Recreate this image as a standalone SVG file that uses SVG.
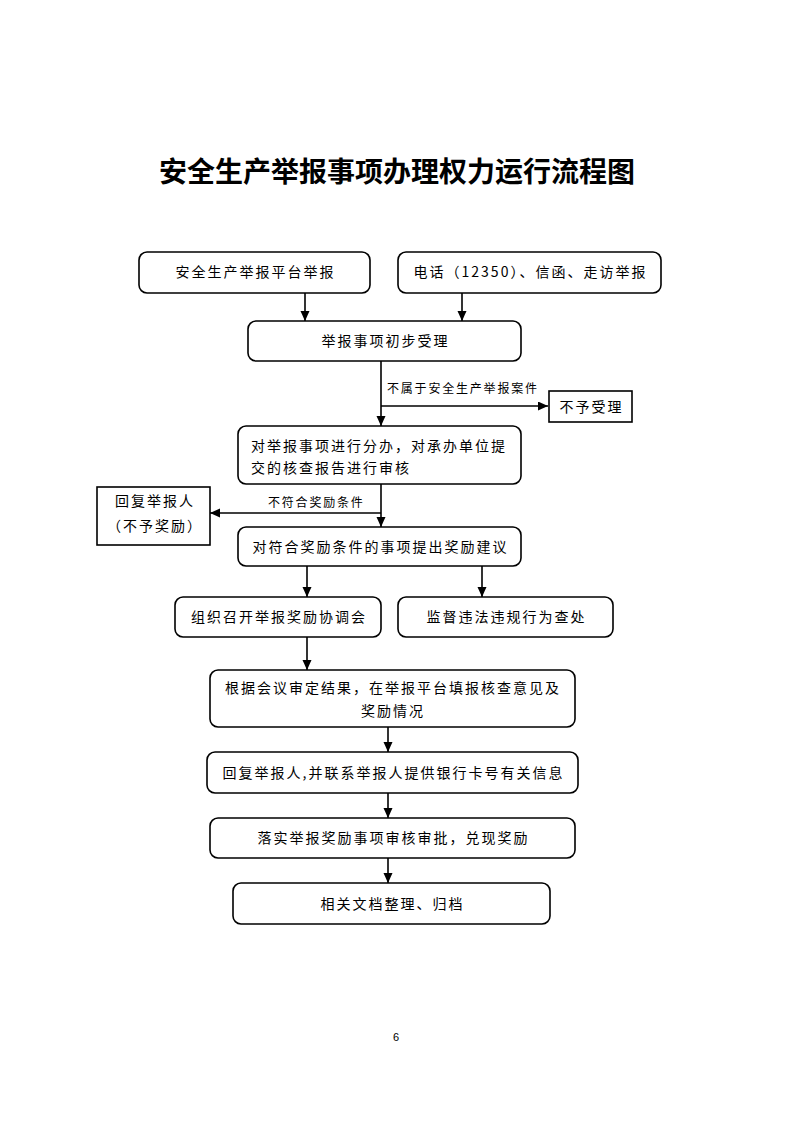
<svg xmlns="http://www.w3.org/2000/svg" width="793" height="1122" viewBox="0 0 793 1122">
<style>
.bg{fill:#fff}
.box{fill:#fff;stroke:#000;stroke-width:1.6}
.t{font-family:"Noto Sans CJK SC","Noto Sans",sans-serif;font-size:14px;letter-spacing:2px;fill:#000}
.c{text-anchor:middle}
.lbl{font-family:"Noto Sans CJK SC","Noto Sans",sans-serif;font-size:12px;letter-spacing:1.8px;fill:#000}
.title{font-family:"Noto Sans CJK SC","Noto Sans",sans-serif;font-size:28px;font-weight:bold;text-anchor:middle;fill:#000}
.ln{fill:none;stroke:#000;stroke-width:1.6}
.ar{fill:none;stroke:#000;stroke-width:1.6;marker-end:url(#ah)}
</style>
<defs>
<marker id="ah" markerUnits="userSpaceOnUse" markerWidth="10" markerHeight="10" refX="10" refY="4.5" orient="auto">
<path d="M0,0 L10,4.5 L0,9 z" fill="#000"/>
</marker>
</defs>
<rect class="bg" x="0" y="0" width="793" height="1122"/>
<text class="title" x="397" y="182">安全生产举报事项办理权力运行流程图</text>

<g id="connectors">
<path class="ar" d="M305,293 V321"/>
<path class="ar" d="M462,293 V321"/>
<path class="ar" d="M381,361 V426"/>
<path class="ar" d="M381,406 H548"/>
<path class="ar" d="M381,484 V527"/>
<path class="ar" d="M381,513 H210"/>
<path class="ar" d="M307,566 V597"/>
<path class="ar" d="M482,566 V597"/>
<path class="ar" d="M307,637 V670"/>
<path class="ar" d="M388,727 V752"/>
<path class="ar" d="M388,793 V818"/>
<path class="ar" d="M388,858 V883"/>
<text class="lbl" x="387" y="393">不属于安全生产举报案件</text>
<text class="lbl" x="268" y="507">不符合奖励条件</text>
</g>

<g id="n1">
<rect class="box" x="139" y="252" width="231" height="41" rx="8"/>
<text class="t c" x="255.5" y="277">安全生产举报平台举报</text>
</g>
<g id="n2">
<rect class="box" x="398" y="252" width="263" height="41" rx="8"/>
<text class="t c" x="530.5" y="277">电话（12350）、信函、走访举报</text>
</g>
<g id="n3">
<rect class="box" x="248" y="321" width="273" height="40" rx="8"/>
<text class="t c" x="385.5" y="346">举报事项初步受理</text>
</g>
<g id="n4">
<rect class="box" x="549" y="391" width="83" height="31"/>
<text class="t c" x="591.5" y="412">不予受理</text>
</g>
<g id="n5">
<rect class="box" x="238" y="426" width="283" height="58" rx="8"/>
<text class="t" x="251" y="451">对举报事项进行分办，对承办单位提</text>
<text class="t" x="251" y="473">交的核查报告进行审核</text>
</g>
<g id="n6">
<rect class="box" x="97" y="487" width="113" height="58"/>
<text class="t c" x="155" y="506">回复举报人</text>
<text class="t c" x="155" y="531">（不予奖励）</text>
</g>
<g id="n7">
<rect class="box" x="238" y="527" width="283" height="39" rx="8"/>
<text class="t c" x="380.5" y="552">对符合奖励条件的事项提出奖励建议</text>
</g>
<g id="n8">
<rect class="box" x="175" y="597" width="206" height="40" rx="8"/>
<text class="t c" x="279" y="622">组织召开举报奖励协调会</text>
</g>
<g id="n9">
<rect class="box" x="398" y="597" width="215" height="40" rx="8"/>
<text class="t c" x="506.5" y="622">监督违法违规行为查处</text>
</g>
<g id="n10">
<rect class="box" x="210" y="670" width="365" height="57" rx="8"/>
<text class="t c" x="393" y="693">根据会议审定结果，在举报平台填报核查意见及</text>
<text class="t c" x="393" y="716">奖励情况</text>
</g>
<g id="n11">
<rect class="box" x="207" y="752" width="371" height="41" rx="8"/>
<text class="t c" x="393.5" y="778">回复举报人,并联系举报人提供银行卡号有关信息</text>
</g>
<g id="n12">
<rect class="box" x="210" y="818" width="365" height="40" rx="8"/>
<text class="t c" x="393.5" y="843">落实举报奖励事项审核审批，兑现奖励</text>
</g>
<g id="n13">
<rect class="box" x="233" y="883" width="317" height="41" rx="8"/>
<text class="t c" x="392.5" y="909">相关文档整理、归档</text>
</g>
<text x="396" y="1041" font-family="Liberation Sans, sans-serif" font-size="11" text-anchor="middle">6</text>
</svg>
